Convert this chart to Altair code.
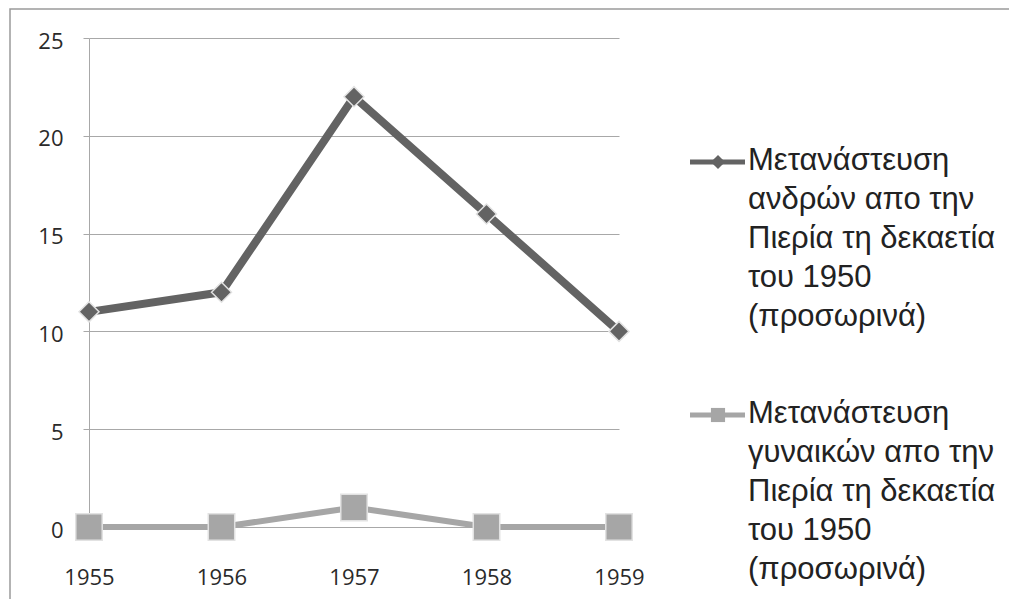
import altair as alt
import pandas as pd

years = ["1955", "1956", "1957", "1958", "1959"]
men = [11, 12, 22, 16, 10]
women = [0, 0, 1, 0, 0]
men_label = "Μετανάστευση|ανδρών απο την|Πιερία τη δεκαετία|του 1950|(προσωρινά)"
women_label = "Μετανάστευση|γυναικών απο την|Πιερία τη δεκαετία|του 1950|(προσωρινά)"
series_labels = [men_label, women_label]
y_ticks = [0, 5, 10, 15, 20, 25]

rows = []
for yr, v in zip(years, men):
    rows.append({"year": yr, "value": v, "series": men_label})
for yr, v in zip(years, women):
    rows.append({"year": yr, "value": v, "series": women_label})
df = pd.DataFrame(rows)
legend_df = pd.DataFrame({"series": series_labels})

color_scale = alt.Scale(domain=series_labels, range=["#636363", "#a6a6a6"])
shape_scale = alt.Scale(domain=series_labels, range=["diamond", "square"])

x_enc = alt.X(
    "year:O",
    sort=years,
    scale=alt.Scale(type="point", padding=0),
    axis=alt.Axis(
        title=None, labelAngle=0, ticks=False, domain=False, grid=False,
        labelFont="Open Sans", labelFontSize=22, labelColor="#2a2a2a",
        labelBaseline="middle", labelPadding=50,
    ),
)
y_enc = alt.Y(
    "value:Q",
    scale=alt.Scale(domain=[0, 25], nice=False),
    axis=alt.Axis(
        title=None, values=y_ticks, tickSize=6, tickColor="#a8a8a8",
        gridColor="#a8a8a8", gridWidth=1, domainColor="#a8a8a8",
        labelFont="Open Sans", labelFontSize=22, labelColor="#2a2a2a",
        labelPadding=20, labelOffset=3,
    ),
)

base = alt.Chart(df)
lines = base.mark_line().encode(
    x=x_enc,
    y=y_enc,
    color=alt.Color("series:N", scale=color_scale, legend=None),
    strokeWidth=alt.StrokeWidth("series:N", scale=alt.Scale(domain=series_labels, range=[8, 6]), legend=None),
)
points = base.mark_point(filled=True, opacity=1, stroke="#e2e2e2", strokeWidth=1.5).encode(
    x=x_enc,
    y=y_enc,
    color=alt.Color("series:N", scale=color_scale, legend=None),
    shape=alt.Shape("series:N", scale=shape_scale, legend=None),
    size=alt.Size("series:N", scale=alt.Scale(domain=series_labels, range=[400, 700]), legend=None),
)
main = alt.layer(lines, points)

leg_y = alt.Y("series:N", scale=alt.Scale(type="point", padding=0, domain=series_labels, range=[124, 377]), axis=None)
leg_base = alt.Chart(legend_df)
leg_rule = leg_base.mark_rule(strokeWidth=5).encode(
    x=alt.value(601), x2=alt.value(656), y=leg_y,
    color=alt.Color("series:N", scale=color_scale, legend=None),
)
leg_pt = leg_base.mark_point(filled=True, opacity=1, size=200).encode(
    x=alt.value(629), y=leg_y,
    color=alt.Color("series:N", scale=color_scale, legend=None),
    shape=alt.Shape("series:N", scale=shape_scale, legend=None),
)
leg_text = leg_base.mark_text(
    align="left", baseline="top", dy=-16, lineBreak="|", lineHeight=39,
    font="Liberation Sans", fontSize=31, color="#222222",
).encode(x=alt.value(659), y=leg_y, text="series:N")
legend = alt.layer(leg_rule, leg_pt, leg_text)

frame = alt.Chart(pd.DataFrame({"k": [0]})).mark_rect(
    fillOpacity=0, stroke="#9a9a9a", strokeWidth=1.5
).encode(x=alt.value(-79), x2=alt.value(1010), y=alt.value(-29), y2=alt.value(620))

chart = alt.layer(frame, main, legend).resolve_scale(y="independent").properties(
    width=530, height=489,
    autosize=alt.AutoSizeParams(type="none"),
    padding={"left": 81, "top": 30, "right": 390, "bottom": 72},
).configure_view(stroke=None)

chart.save("out.html", embed_options={"renderer": "svg", "actions": False})
